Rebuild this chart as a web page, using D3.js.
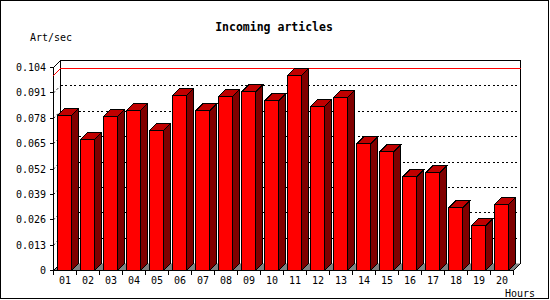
<!doctype html>
<html>
<head>
<meta charset="UTF-8">
<title>Incoming articles</title>
<style>
    body { margin: 0; padding: 0; background: #fff; }
    svg { display: block; }
    text { font-family: "DejaVu Sans Mono", "Liberation Mono", monospace; fill: #000; }
    .lbl { font-size: 10px; }
    .title { font-size: 11.5px; font-weight: bold; }
    .ln { shape-rendering: crispEdges; }
</style>
</head>
<body>
<svg id="chart" width="550" height="300"></svg>
<script src="https://d3js.org/d3.v7.min.js"></script>
<script>
// data
const hours = ["01","02","03","04","05","06","07","08","09","10",
               "11","12","13","14","15","16","17","18","19","20"];
const artPerSec = [0.0794, 0.0671, 0.0789, 0.0820, 0.0717, 0.0897, 0.0818, 0.0890, 0.0915, 0.0869,
                   0.0998, 0.0839, 0.0885, 0.0649, 0.0608, 0.0480, 0.0500, 0.0321, 0.0229, 0.0337];
const yTicks = [0, 0.013, 0.026, 0.039, 0.052, 0.065, 0.078, 0.091, 0.104];
const yTickLabels = ["0", "0.013", "0.026", "0.039", "0.052", "0.065", "0.078", "0.091", "0.104"];

const depth = 7;       // 3d offset of the back plane
const barInset = 4;
const barW = 14;

const svg = d3.select("#chart");

const x = d3.scaleBand().domain(hours).range([53.5, 513.5]).padding(0);
const y = d3.scaleLinear().domain([0, 0.104]).range([270.5, 67.5]);

const x0 = x.range()[0], x1 = x.range()[1];
const yBase = y(0), yTop = y(0.104);

// outer frame
svg.append("rect").attr("class", "ln")
    .attr("x", 0.5).attr("y", 0.5).attr("width", 548).attr("height", 298)
    .attr("fill", "#fff").attr("stroke", "#000");

// floor
svg.append("polygon")
    .attr("points", [[x0, yBase], [x1, yBase], [x1 + depth, yBase - depth], [x0 + depth, yBase - depth]].join(" "))
    .attr("fill", "#808080").attr("stroke", "none");

// grid on the back plane
const grid = svg.append("g").attr("stroke", "#000").attr("stroke-dasharray", "2,2.5");
grid.selectAll("line.g")
    .data(yTicks.filter(t => t > 0 && t < 0.104))
    .join("line").attr("class", "ln")
    .attr("x1", x0 + depth).attr("x2", x1 + depth)
    .attr("y1", d => y(d) - depth).attr("y2", d => y(d) - depth);
grid.selectAll("line.d")
    .data(yTicks.filter(t => t > 0 && t < 0.104))
    .join("line")
    .attr("x1", x0).attr("x2", x0 + depth)
    .attr("y1", d => y(d)).attr("y2", d => y(d) - depth);

// back plane edges + axes
const edges = [
    [[x0, yBase], [x0, yTop]],
    [[x0, yTop], [x0 + depth, yTop - depth]],
    [[x0 + depth, yTop - depth], [x1 + depth, yTop - depth]],
    [[x0 + depth, yTop - depth], [x0 + depth, yBase - depth]],
    [[x1 + depth, yTop - depth], [x1 + depth, yBase - depth]],
    [[x0, yBase], [x1, yBase]],
    [[x1, yBase], [x1 + depth, yBase - depth]],
    [[x0, yBase], [x0 + depth, yBase - depth]]
];
svg.append("g").selectAll("line")
    .data(edges).join("line").attr("class", "ln")
    .attr("stroke", "#000")
    .attr("x1", d => d[0][0]).attr("y1", d => d[0][1])
    .attr("x2", d => d[1][0]).attr("y2", d => d[1][1]);

// max line
const maxV = d3.max(artPerSec);
svg.append("polyline")
    .attr("points", [[x0, y(maxV)], [x0 + depth, y(maxV) - depth], [x1 + depth, y(maxV) - depth]].join(" "))
    .attr("fill", "none").attr("stroke", "#ff0000").attr("class", "ln");

// y ticks and labels
svg.append("g").selectAll("line")
    .data(yTicks).join("line").attr("class", "ln")
    .attr("stroke", "#000")
    .attr("x1", x0 - 4).attr("x2", x0)
    .attr("y1", d => y(d)).attr("y2", d => y(d));
svg.append("g").selectAll("text")
    .data(yTicks).join("text").attr("class", "lbl")
    .attr("x", 46).attr("y", d => y(d)).attr("dy", "0.35em")
    .attr("text-anchor", "end")
    .text((d, i) => yTickLabels[i]);

// x ticks and labels
svg.append("g").selectAll("line")
    .data(hours.concat(["end"])).join("line").attr("class", "ln")
    .attr("stroke", "#000")
    .attr("x1", (d, i) => x0 + i * x.bandwidth()).attr("x2", (d, i) => x0 + i * x.bandwidth())
    .attr("y1", yBase).attr("y2", yBase + 4);
svg.append("g").selectAll("text")
    .data(hours).join("text").attr("class", "lbl")
    .attr("x", d => x(d) + x.bandwidth() / 2).attr("y", 280).attr("dy", "0.35em")
    .attr("text-anchor", "middle")
    .text(d => d);

// bars
const bars = svg.append("g").selectAll("g")
    .data(hours.map((h, i) => ({ h, v: artPerSec[i] })))
    .join("g").attr("class", "ln").attr("stroke", "#000");

bars.append("polygon")
    .attr("fill", "#800000")
    .attr("points", d => {
        const bx = x(d.h) + barInset + barW, by = y(d.v);
        return [[bx, yBase], [bx + depth, yBase - depth], [bx + depth, by - depth], [bx, by]].join(" ");
    });
bars.append("polygon")
    .attr("fill", "#c00000")
    .attr("points", d => {
        const bx = x(d.h) + barInset, by = y(d.v);
        return [[bx, by], [bx + depth, by - depth], [bx + barW + depth, by - depth], [bx + barW, by]].join(" ");
    });
bars.append("rect")
    .attr("fill", "#ff0000")
    .attr("x", d => x(d.h) + barInset).attr("width", barW)
    .attr("y", d => y(d.v)).attr("height", d => yBase - y(d.v));

// titles
svg.append("text").attr("class", "title")
    .attr("x", 274).attr("y", 27).attr("dy", "0.35em").attr("text-anchor", "middle")
    .text("Incoming articles");
svg.append("text").attr("class", "lbl")
    .attr("x", 30).attr("y", 37).attr("dy", "0.35em")
    .text("Art/sec");
svg.append("text").attr("class", "lbl")
    .attr("x", 505).attr("y", 293).attr("dy", "0.35em")
    .text("Hours");
</script>
</body>
</html>
